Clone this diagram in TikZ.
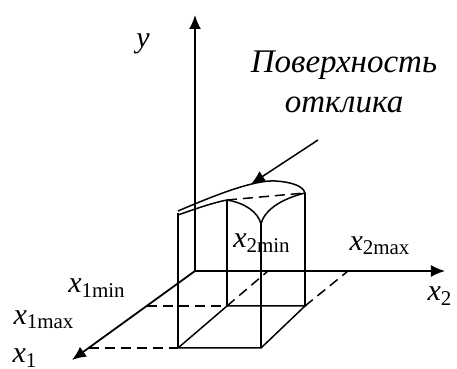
\documentclass[tikz,border=0pt]{standalone}
\usepackage{amsmath}
\usepackage{fontspec}
\setmainfont{Liberation Serif}
\usetikzlibrary{arrows.meta}

\begin{document}
\begin{tikzpicture}[
    x=0.5pt,
    y=-0.5pt,
    >={Latex[length=7pt,width=6pt]},
    every node/.style={font=\fontsize{15}{18}\selectfont, inner sep=0pt},
    axisline/.style={->,line width=0.9pt},
    boxline/.style={line width=0.75pt},
    hiddenline/.style={line width=0.75pt,dash pattern=on 5pt off 3pt}
]

\useasboundingbox (0,0) rectangle (457,369);

% ---------------------------------------------------------
% Axes
% ---------------------------------------------------------

\coordinate (O)   at (195,271);
\coordinate (Ytip)  at (195,15);
\coordinate (X1tip) at (72,360);
\coordinate (X2tip) at (445,271);

\draw[axisline] (O) -- (Ytip);
\draw[axisline] (O) -- (X2tip);
\draw[axisline] (O) -- (X1tip);

\node (ylbl)  at (143,44)  {\textit{y}};
\node (x1lbl) at (25,358)  {$\textit{x}_{\text{1}}$};
\node (x2lbl) at (440,296) {$\textit{x}_{\text{2}}$};

% ---------------------------------------------------------
% Box: bottom and vertical edges
% ---------------------------------------------------------

\coordinate (A) at (178,348);
\coordinate (B) at (261,348);
\coordinate (C) at (305,306);
\coordinate (D) at (227,306);

\coordinate (At) at (178,213);
\coordinate (Bt) at (261,224);
\coordinate (Ct) at (305,193);
\coordinate (Dt) at (227,200);

\draw[boxline] (A) -- (B) -- (C) -- (D) -- cycle;

\draw[boxline] (A) -- (At);
\draw[boxline] (B) -- (Bt);
\draw[boxline] (C) -- (Ct);
\draw[boxline] (D) -- (Dt);

% projections on the axes
\coordinate (x1min) at (147,306);
\coordinate (x1max) at (89,348);
\coordinate (x2min) at (268,271);
\coordinate (x2max) at (348,271);

\draw[hiddenline] (x1min) -- (D);
\draw[hiddenline] (x1max) -- (A);
\draw[hiddenline] (D) -- (x2min);
\draw[hiddenline] (C) -- (x2max);

\node (x1minlbl) at (97,288)  {$\textit{x}_{\text{1min}}$};
\node (x1maxlbl) at (44,320)  {$\textit{x}_{\text{1max}}$};
\node (x2minlbl) at (262,243) {$\textit{x}_{\text{2min}}$};
\node (x2maxlbl) at (380,246) {$\textit{x}_{\text{2max}}$};

% ---------------------------------------------------------
% Response surface (top)
% ---------------------------------------------------------

\draw[boxline]
    (178,211)
    .. controls (220,193) and (255,180) ..
    (275,181)
    .. controls (292,182) and (303,186) ..
    (Ct);

\draw[boxline]
    (178,215)
    .. controls (195,209) and (212,203) ..
    (Dt);

\draw[hiddenline] (Dt) -- (Ct);

\draw[boxline]
    (Dt)
    .. controls (245,203) and (258,212) ..
    (Bt);

\draw[boxline]
    (Ct)
    .. controls (285,198) and (265,208) ..
    (Bt);

% Label
\node[
    align=center,
    font=\fontsize{16.5}{20}\selectfont\itshape
] (surflbl) at (344,82)
    {Поверхность\\отклика};

\coordinate (surfstart) at (318,140);
\coordinate (surftip) at (251,184);

\draw[->,line width=0.75pt] (surfstart) -- (surftip);

\end{tikzpicture}
\end{document}
